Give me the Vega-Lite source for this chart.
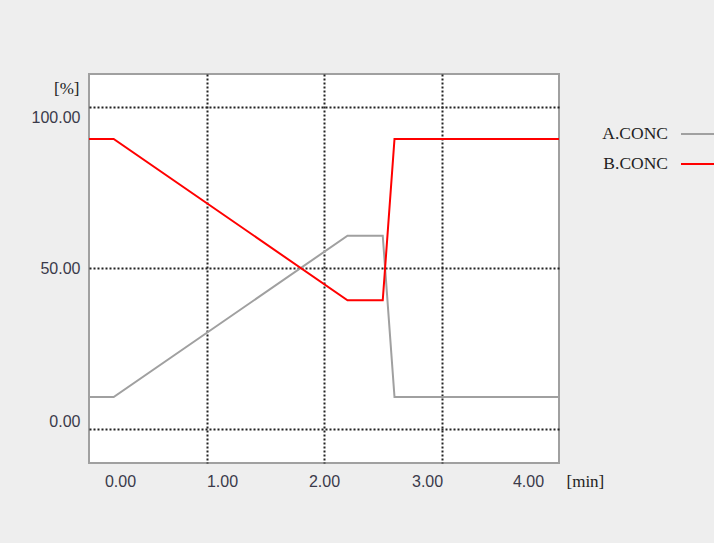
{
  "$schema": "https://vega.github.io/schema/vega-lite/v6.json",
  "autosize": {"type": "none"},
  "padding": {"left": 89, "top": 74, "right": 155, "bottom": 80},
  "width": 470,
  "height": 389,
  "background": "#eeeeee",
  "config": {"view": {"fill": "#ffffff", "stroke": "#a0a0a0", "strokeWidth": 2}},
  "data": {
    "values": [
      {"t": 0, "series": "A.CONC", "pct": 10},
      {"t": 0.21, "series": "A.CONC", "pct": 10},
      {"t": 2.2, "series": "A.CONC", "pct": 60},
      {"t": 2.5, "series": "A.CONC", "pct": 60},
      {"t": 2.6, "series": "A.CONC", "pct": 10},
      {"t": 4, "series": "A.CONC", "pct": 10},
      {"t": 0, "series": "B.CONC", "pct": 90},
      {"t": 0.21, "series": "B.CONC", "pct": 90},
      {"t": 2.2, "series": "B.CONC", "pct": 40},
      {"t": 2.5, "series": "B.CONC", "pct": 40},
      {"t": 2.6, "series": "B.CONC", "pct": 90},
      {"t": 4, "series": "B.CONC", "pct": 90}
    ]
  },
  "mark": {"type": "line", "strokeWidth": 2},
  "encoding": {
    "x": {
      "field": "t",
      "type": "quantitative",
      "scale": {"domain": [0, 4], "nice": false, "zero": false},
      "axis": {
        "values": [0.264, 1, 1.132, 2, 2.877, 3, 3.736],
        "labelExpr": "datum.value==1||datum.value==3 ? '' : format(round(datum.value*1.15-0.3), '.2f')",
        "domain": false,
        "ticks": false,
        "tickSize": 0,
        "labelPadding": 18.7,
        "labelBaseline": "middle",
        "labelFont": "Liberation Sans",
        "labelFontSize": 16,
        "labelColor": "#3a3a4a",
        "labelFlush": false,
        "labelOverlap": false,
        "grid": true,
        "gridColor": "#222222",
        "gridDash": [2, 2],
        "gridWidth": 2,
        "gridOpacity": {"condition": {"test": "datum.value==1||datum.value==2||datum.value==3", "value": 1}, "value": 0},
        "title": "[min]",
        "titleFont": "Liberation Serif",
        "titleFontSize": 17,
        "titleFontWeight": "normal",
        "titleColor": "#222222",
        "titleX": 477,
        "titleY": 18.7,
        "titleAlign": "left",
        "titleBaseline": "middle"
      }
    },
    "y": {
      "field": "pct",
      "type": "quantitative",
      "scale": {"domain": [-10.45, 110.14], "nice": false, "zero": false},
      "axis": {
        "values": [0, 2.4, 50, 96.8, 100],
        "labelExpr": "datum.value==0||datum.value==100 ? '' : (datum.value<10 ? '0.00' : (datum.value<75 ? '50.00' : '100.00'))",
        "domain": false,
        "ticks": false,
        "tickSize": 0,
        "labelPadding": 9,
        "labelBaseline": "middle",
        "labelFont": "Liberation Sans",
        "labelFontSize": 16,
        "labelColor": "#3a3a4a",
        "labelFlush": false,
        "labelOverlap": false,
        "grid": true,
        "gridColor": "#222222",
        "gridDash": [2, 2],
        "gridWidth": 2,
        "gridOpacity": {"condition": {"test": "datum.value==0||datum.value==50||datum.value==100", "value": 1}, "value": 0},
        "title": "[%]",
        "titleAngle": 0,
        "titleFont": "Liberation Serif",
        "titleFontSize": 17,
        "titleFontWeight": "normal",
        "titleColor": "#222222",
        "titleX": -10,
        "titleY": 14,
        "titleAlign": "right",
        "titleBaseline": "middle"
      }
    },
    "color": {
      "field": "series",
      "type": "nominal",
      "scale": {"domain": ["A.CONC", "B.CONC"], "range": ["#a0a0a0", "#ff0000"]},
      "legend": {
        "title": null,
        "orient": "none",
        "legendX": 591,
        "legendY": 49,
        "padding": 0,
        "symbolType": "M-2,0H2",
        "symbolSize": 400,
        "symbolOffset": 10,
        "symbolStrokeWidth": 2,
        "symbolOpacity": 1,
        "rowPadding": 10,
        "labelAlign": "right",
        "labelOffset": -44,
        "labelBaseline": "middle",
        "labelFont": "Liberation Serif",
        "labelFontSize": 17.5,
        "labelColor": "#222222"
      }
    }
  }
}
